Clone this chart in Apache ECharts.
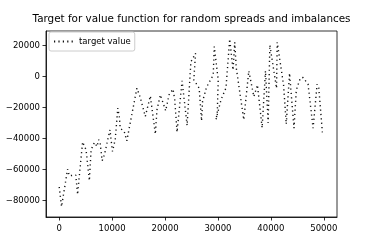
<!DOCTYPE html>
<html>
<head>
<meta charset="utf-8">
<script src="https://cdn.jsdelivr.net/npm/echarts@6/dist/echarts.min.js"></script>
<style>html,body{margin:0;padding:0;background:#fff}#c{width:374px;height:249px}</style>
</head>
<body>
<div id="c"></div>
<script>
const titleText = 'Target for value function for random spreads and imbalances';
const seriesName = 'target value';
const xValues = [0, 440, 1580, 1900, 3130, 3470, 3800, 4420, 5070, 5700, 6020, 6650, 7160, 7460, 7730, 8110, 8540, 9590, 10060, 10580, 11070, 11390, 11520, 12280, 12780, 13230, 14680, 15320, 16270, 17220, 18170, 18470, 19120, 20120, 20750, 21510, 21830, 22270, 23220, 24170, 24880, 25760, 25440, 26450, 26900, 27090, 27850, 29110, 29300, 30050, 29870, 29620, 30570, 31520, 32220, 32850, 33170, 33470, 34880, 35830, 36780, 37460, 38350, 38980, 39490, 39810, 41070, 41200, 42400, 42910, 43530, 44370, 44810, 45570, 46080, 47030, 47980, 48740, 49050, 49740];
const yValues = [-71400, -84100, -59900, -64100, -63700, -76300, -64100, -42300, -47300, -67300, -47300, -42600, -45200, -40800, -42800, -54400, -50500, -34400, -48400, -40800, -20400, -26600, -33300, -35500, -41500, -33300, -7500, -13500, -25800, -12500, -37200, -21500, -11800, -22100, -11800, -8100, -15000, -35900, -2800, -31600, 9500, 15100, -2100, -7500, -28600, -16100, -6800, 1100, 19400, -2100, -23600, -27900, -15000, -7300, 24300, 4300, 22200, 5400, -27900, 3700, -12900, -5400, -33100, 3700, -29900, 20400, -7500, 22200, -5400, -30700, 2200, -33300, -8600, -1000, -600, -4900, -33300, -4900, -7100, -36100];
const xTicks = [0, 10000, 20000, 30000, 40000, 50000];
const yTicks = [-80000, -60000, -40000, -20000, 0, 20000];

const font = 'DejaVu Sans';
const chart = echarts.init(document.getElementById('c'), null, {renderer: 'canvas'});
const fmt = v => String(Math.round(v)).replace('-', '\u2212');
chart.setOption({
  animation: false,
  backgroundColor: '#fff',
  title: {
    text: titleText, left: 191.5, top: 14, textAlign: 'center', padding: 0,
    textStyle: {fontFamily: font, fontSize: 10.4, fontWeight: 'normal', color: '#000'}
  },
  legend: {
    show: true,
    left: 49, top: 32, right: 'auto', bottom: 'auto', orient: 'horizontal',
    padding: [5, 4, 5, 4],
    backgroundColor: '#fff', borderColor: '#cccccc', borderWidth: 1, borderRadius: 2,
    itemWidth: 20, itemHeight: 8, itemGap: 0,
    itemStyle: {opacity: 0},
    textStyle: {fontFamily: font, fontSize: 8.5, color: '#000'},
    data: [seriesName]
  },
  grid: {left: 46, right: 37, top: 31, bottom: 32, show: true, borderColor: '#000', borderWidth: 0.8, backgroundColor: 'transparent'},
  xAxis: {
    type: 'value', min: -2500, max: 52500,
    axisLine: {show: true, onZero: false, lineStyle: {color: '#000', width: 0.8}},
    axisTick: {show: true, length: 3.5, customValues: xTicks, lineStyle: {color: '#000', width: 0.8}},
    axisLabel: {show: true, customValues: xTicks, margin: 7, formatter: fmt, fontFamily: font, fontSize: 8.5, color: '#000'},
    splitLine: {show: false}
  },
  yAxis: {
    type: 'value', min: -90800, max: 29500,
    axisLine: {show: true, onZero: false, lineStyle: {color: '#000', width: 0.8}},
    axisTick: {show: true, length: 3.5, customValues: yTicks, lineStyle: {color: '#000', width: 0.8}},
    axisLabel: {show: true, customValues: yTicks, margin: 6, formatter: fmt, fontFamily: font, fontSize: 8.5, color: '#000'},
    splitLine: {show: false}
  },
  series: [{
    name: seriesName, type: 'line', showSymbol: false, symbol: 'none',
    data: xValues.map((x, i) => [x, yValues[i]]),
    lineStyle: {color: '#111', width: 1.4, type: [1.2, 3.2], cap: 'butt'},
    itemStyle: {color: '#111'}
  }]
});
</script>
</body>
</html>
